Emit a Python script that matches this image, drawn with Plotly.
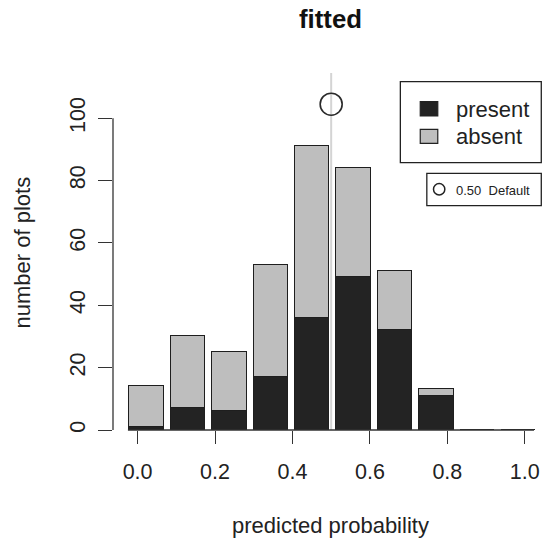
import plotly.graph_objects as go

# ---- data ----
bins = ["0.0-0.1", "0.1-0.2", "0.2-0.3", "0.3-0.4", "0.4-0.5",
        "0.5-0.6", "0.6-0.7", "0.7-0.8", "0.8-0.9", "0.9-1.0"]
present = [1, 7, 6, 17, 36, 49, 32, 11, 0, 0]
absent = [13, 23, 19, 36, 55, 35, 19, 2, 0, 0]
threshold = 0.50
threshold_label = "0.50  Default"
x_ticks = [0.0, 0.2, 0.4, 0.6, 0.8, 1.0]
x_ticktext = ["0.0", "0.2", "0.4", "0.6", "0.8", "1.0"]
y_ticks = [0, 20, 40, 60, 80, 100]

# ---- layout geometry (pixels) ----
W, H = 545, 540
L, R, T, B = 113, 540, 73, 430
PW, PH = R - L, B - T
FONT = "Liberation Sans, Arial, Helvetica, sans-serif"
DARK = "#232323"
LIGHT = "#bebebe"
EDGE = "#1e1e1e"


def px(x):
    return (x - L) / PW


def py(y):
    return (B - y) / PH


idx = list(range(len(bins)))

fig = go.Figure()
fig.add_trace(go.Bar(x=idx, y=present, width=0.833, name="present",
                     marker=dict(color=DARK, line=dict(color=EDGE, width=1.3)),
                     showlegend=False, hovertext=bins))
fig.add_trace(go.Bar(x=idx, y=absent, width=0.833, name="absent",
                     marker=dict(color=LIGHT, line=dict(color=EDGE, width=1.3)),
                     showlegend=False, hovertext=bins))
fig.add_trace(go.Scatter(x=[threshold], y=[104.5], xaxis="x2", yaxis="y",
                         mode="markers", cliponaxis=False, showlegend=False,
                         marker=dict(symbol="circle-open", size=22,
                                     line=dict(color="#2a2a2a", width=1.6),
                                     color="#2a2a2a")))

shapes = [
    # threshold line
    dict(type="line", xref="x2", yref="paper", x0=threshold, x1=threshold,
         y0=0, y1=1, line=dict(color="#d4d4d4", width=2), layer="below"),
    # y axis line
    dict(type="line", xref="paper", yref="y", x0=0, x1=0, y0=y_ticks[0], y1=y_ticks[-1],
         line=dict(color="#333333", width=1.3)),
    # x axis line
    dict(type="line", xref="paper", yref="paper", x0=px(128), x1=px(536), y0=0, y1=0,
         line=dict(color="#333333", width=1.3)),
    # legend box 1
    dict(type="rect", xref="paper", yref="paper", x0=px(401.7), x1=px(543.3),
         y0=py(162.7), y1=py(81.7), line=dict(color="#222222", width=1.3),
         fillcolor="white"),
    dict(type="rect", xref="paper", yref="paper", x0=px(421.7), x1=px(439.3),
         y0=py(116), y1=py(101.7), line=dict(color="#222222", width=1.2),
         fillcolor=DARK),
    dict(type="rect", xref="paper", yref="paper", x0=px(421.7), x1=px(439.3),
         y0=py(143.3), y1=py(129.3), line=dict(color="#222222", width=1.2),
         fillcolor=LIGHT),
    # legend box 2
    dict(type="rect", xref="paper", yref="paper", x0=px(428.3), x1=px(543.3),
         y0=py(205.7), y1=py(173.3), line=dict(color="#222222", width=1.3),
         fillcolor="white"),
    dict(type="circle", xref="paper", yref="paper", x0=px(435), x1=px(446.4),
         y0=py(195), y1=py(183.6), line=dict(color="#222222", width=1.5)),
]

annotations = [
    dict(text="<b>fitted</b>", xref="paper", yref="paper", x=px(332), y=py(19),
         xanchor="center", yanchor="middle", showarrow=False,
         font=dict(family=FONT, size=25.8, color="#111111")),
    dict(text="predicted probability", xref="paper", yref="paper", x=px(332), y=py(525),
         xanchor="center", yanchor="middle", showarrow=False,
         font=dict(family=FONT, size=22, color="#222222")),
    dict(text="number of plots", xref="paper", yref="paper", x=px(22), y=py(252),
         xanchor="center", yanchor="middle", showarrow=False, textangle=-90,
         font=dict(family=FONT, size=22, color="#222222")),
    dict(text="present", xref="paper", yref="paper", x=px(456), y=py(109),
         xanchor="left", yanchor="middle", showarrow=False,
         font=dict(family=FONT, size=22, color="#222222")),
    dict(text="absent", xref="paper", yref="paper", x=px(456), y=py(136),
         xanchor="left", yanchor="middle", showarrow=False,
         font=dict(family=FONT, size=22, color="#222222")),
    dict(text=threshold_label.replace("  ", "&nbsp;&nbsp;"), xref="paper", yref="paper",
         x=px(456), y=py(190.5), xanchor="left", yanchor="middle", showarrow=False,
         font=dict(family=FONT, size=13, color="#222222")),
]

fig.update_layout(
    width=W, height=H,
    margin=dict(l=L, r=W - R, t=T, b=H - B, pad=0),
    paper_bgcolor="white", plot_bgcolor="white",
    barmode="stack", bargap=0,
    font=dict(family=FONT, size=21.5, color="#222222"),
    xaxis=dict(range=[-0.810, 9.454], visible=False, fixedrange=True),
    xaxis2=dict(overlaying="x", anchor="y", side="bottom",
                range=[-0.0635, 1.0342], tickmode="array",
                tickvals=x_ticks, ticktext=x_ticktext,
                ticks="outside", ticklen=13, tickwidth=1.3, tickcolor="#333333",
                showline=False, showgrid=False, zeroline=False,
                ticklabelstandoff=9,
                tickfont=dict(family=FONT, size=21.5, color="#222222")),
    yaxis=dict(range=[0, 114.5], tickmode="array", tickvals=y_ticks,
               ticks="outside", ticklen=14, tickwidth=1.3, tickcolor="#333333",
               tickangle=-90, showline=False, showgrid=False, zeroline=False,
               ticklabelstandoff=4,
               tickfont=dict(family=FONT, size=21.5, color="#222222")),
    shapes=shapes, annotations=annotations,
)

fig.write_html("out.html", config={"displayModeBar": False},
               post_script="document.body.style.margin='0';document.body.style.overflow='hidden';")
